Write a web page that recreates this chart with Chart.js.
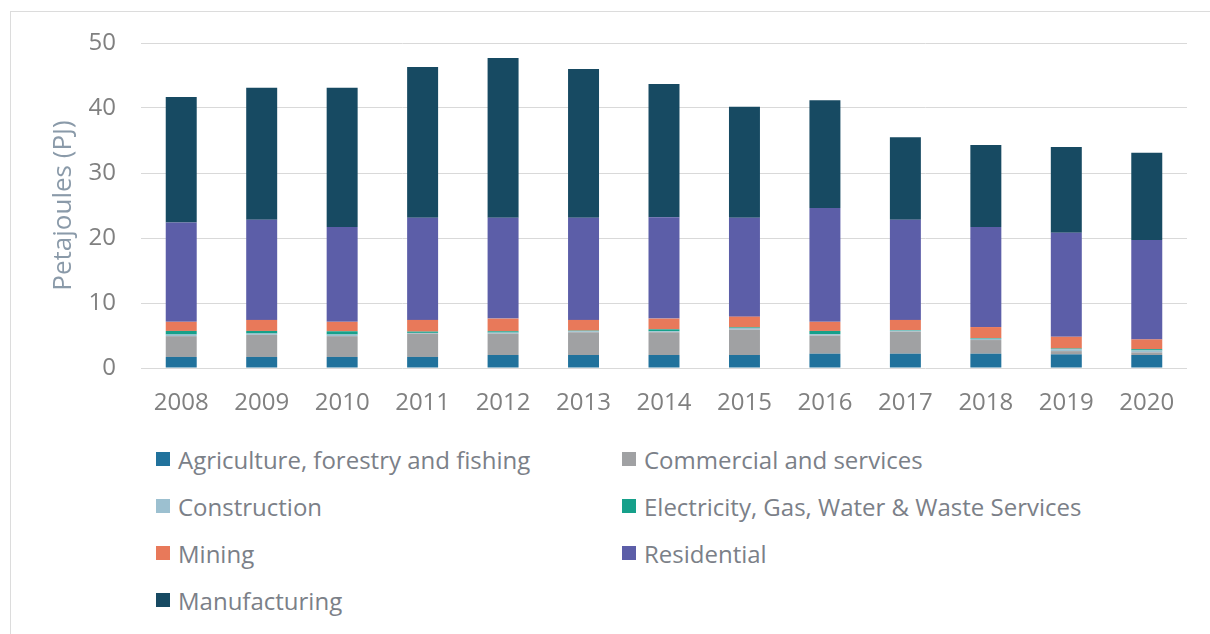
<!DOCTYPE html>
<html>
<head>
<meta charset="utf-8">
<script src="https://cdn.jsdelivr.net/npm/chart.js@4.4.1/dist/chart.umd.min.js"></script>
<style>
  html, body { margin: 0; padding: 0; background: #fff; }
  body { width: 1210px; height: 634px; position: relative; overflow: hidden; font-family: 'Open Sans', sans-serif; }
  #frame { position: absolute; left: 10px; top: 11px; right: 0; bottom: 0; border-top: 1px solid #dcdcdc; border-left: 1px solid #dcdcdc; }
  #wrap { position: absolute; left: 10px; top: 12px; width: 1200px; height: 420px; }
  #legend { position: absolute; left: 156px; top: 443px; display: grid; grid-template-columns: 466px 500px; row-gap: 15px; }
  .item { display: flex; align-items: center; height: 32px; font-size: 24px; color: #7b8088; white-space: nowrap; }
  .box { width: 14px; height: 14px; margin-right: 8px; flex: none; }
</style>
</head>
<body>
<div id="frame"></div>
<div id="wrap"><canvas id="energyChart"></canvas></div>
<div id="legend"></div>
<script>
// Categories
const years = ['2008', '2009', '2010', '2011', '2012', '2013', '2014', '2015', '2016', '2017', '2018', '2019', '2020'];

// Series values (PJ), bottom of stack first
const agriculture   = [1.7, 1.7, 1.7, 1.7, 2.0, 2.0, 2.0, 2.0, 2.2, 2.2, 2.2, 2.1, 2.0];
const commercial    = [3.2, 3.4, 3.2, 3.6, 3.3, 3.5, 3.5, 3.9, 2.8, 3.4, 2.1, 0.5, 0.4];
const construction  = [0.25, 0.2, 0.25, 0.1, 0.15, 0.15, 0.15, 0.25, 0.2, 0.15, 0.2, 0.3, 0.3];
const electricity   = [0.55, 0.4, 0.5, 0.2, 0.2, 0.1, 0.3, 0.1, 0.5, 0.1, 0.1, 0.1, 0.2];
const mining        = [1.4, 1.7, 1.45, 1.8, 1.95, 1.65, 1.65, 1.65, 1.4, 1.55, 1.7, 1.8, 1.5];
const residential   = [15.3, 15.4, 14.6, 15.7, 15.5, 15.7, 15.6, 15.2, 17.5, 15.4, 15.4, 16.0, 15.3];
const manufacturing = [19.3, 20.3, 21.4, 23.2, 24.6, 22.9, 20.5, 17.1, 16.6, 12.7, 12.6, 13.2, 13.4];

// Axis ticks
const yTicks = [0, 10, 20, 30, 40, 50];

const series = [
    { label: 'Agriculture, forestry and fishing', data: agriculture, color: '#21729c' },
    { label: 'Commercial and services', data: commercial, color: '#a0a1a3' },
    { label: 'Construction', data: construction, color: '#9cc0d0' },
    { label: 'Electricity, Gas, Water & Waste Services', data: electricity, color: '#16a08a' },
    { label: 'Mining', data: mining, color: '#e8795a' },
    { label: 'Residential', data: residential, color: '#5c5ea8' },
    { label: 'Manufacturing', data: manufacturing, color: '#174a62' }
];

const ctx = document.getElementById('energyChart').getContext('2d');

const chart = new Chart(ctx, {
    type: 'bar',
    data: {
        labels: years,
        datasets: series.map(s => ({
            label: s.label,
            data: s.data,
            backgroundColor: s.color,
            borderWidth: 0,
            categoryPercentage: 1,
            barPercentage: 0.385
        }))
    },
    options: {
        responsive: true,
        maintainAspectRatio: false,
        animation: false,
        layout: { padding: { top: 31, right: 23, bottom: 0, left: 0 } },
        plugins: {
            legend: { display: false },
            tooltip: { enabled: false }
        },
        scales: {
            x: {
                stacked: true,
                grid: { display: false, drawTicks: false },
                border: { display: false },
                ticks: { color: '#808080', font: { family: 'Open Sans', size: 24 }, padding: 21, maxRotation: 0 },
                afterFit: (scale) => { scale.height = 64; }
            },
            y: {
                stacked: true,
                min: 0,
                max: 50,
                afterBuildTicks: (scale) => { scale.ticks = yTicks.map(v => ({ value: v })); },
                grid: { color: '#d9d9d9', lineWidth: 1, drawTicks: false },
                border: { display: false },
                ticks: { color: '#808080', font: { family: 'Open Sans', size: 24 }, padding: 25 },
                title: {
                    display: true,
                    text: 'Petajoules (PJ)',
                    color: '#8a9aa9',
                    font: { family: 'Open Sans', size: 26 },
                    padding: { top: 38, bottom: 0 }
                },
                afterFit: (scale) => {
                    scale.width = 131;
                    scale.paddingTop = 0;
                    scale.paddingBottom = 0;
                }
            }
        }
    }
});

// Legend in two columns, built from the datasets
const legend = document.getElementById('legend');
chart.data.datasets.forEach(ds => {
    const item = document.createElement('div');
    item.className = 'item';
    item.innerHTML = `<span class="box" style="background:${ds.backgroundColor}"></span><span>${ds.label}</span>`;
    legend.appendChild(item);
});
</script>
</body>
</html>
